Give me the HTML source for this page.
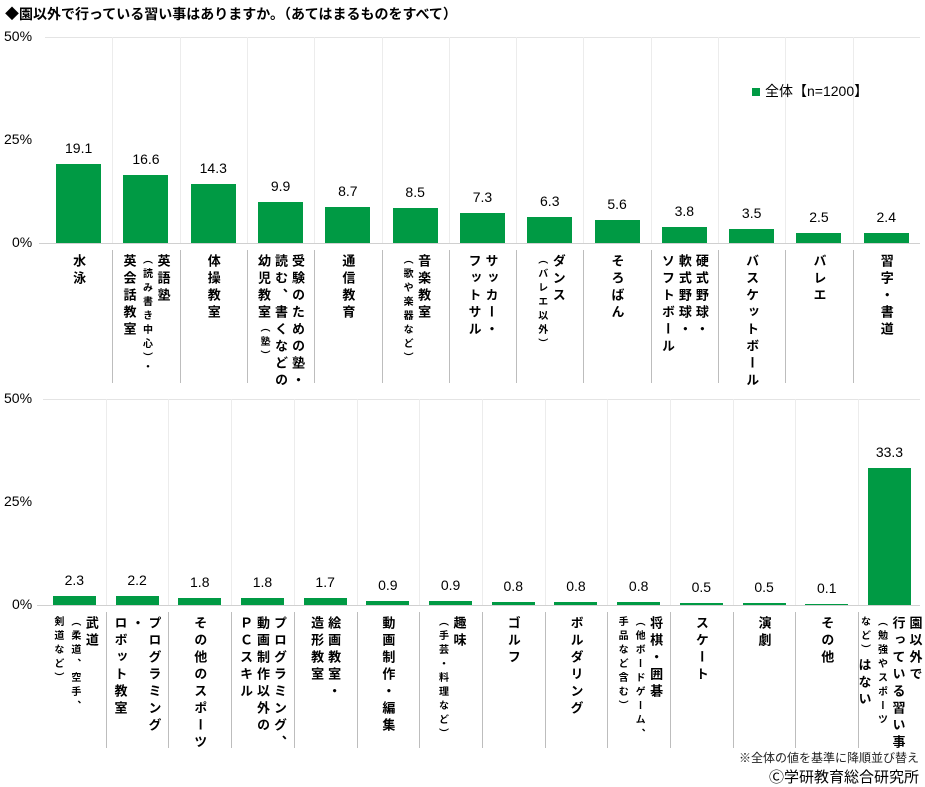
<!DOCTYPE html>
<html><head><meta charset="utf-8"><style>
body{margin:0;width:925px;height:785px;background:#fff;position:relative;overflow:hidden;font-family:"Liberation Sans","Noto Sans CJK JP",sans-serif;color:#000}
.a{position:absolute}
.bar{position:absolute;background:#009a44}
.v{position:absolute;font-size:14px;text-align:center;width:60px}
.yl{position:absolute;font-size:14px;left:4px}
.g{position:absolute;background:#ececec;width:1px}
.s{position:absolute;background:#bdbdbd;width:1px}
.lab{position:absolute;display:flex;justify-content:center}
.lab div{writing-mode:vertical-rl;font-size:13px;font-weight:bold;letter-spacing:4px;line-height:17px}
.lab small{font-size:10px;line-height:14px;letter-spacing:4px}
</style></head><body>
<div class="a" style="left:5px;top:4px;font-size:14px;font-weight:bold">◆園以外で行っている習い事はありますか。（あてはまるものをすべて）</div>
<div id="c"></div>
<div class="a" style="left:752px;top:88px;width:8px;height:8px;background:#009a44"></div>
<div class="a" style="left:765px;top:81px;font-size:14px">全体【n=1200】</div>
<div class="a" style="right:6px;top:749px;font-size:12px;color:#222">※全体の値を基準に降順並び替え</div>
<div class="a" style="right:6px;top:766px;font-size:15px">Ⓒ学研教育総合研究所</div>
<script>
var dTop=[[19.1,'水泳'],[16.6,'英語塾<br><small>（読み書き中心）・</small><br>英会話教室'],[14.3,'体操教室'],[9.9,'受験のための塾・<br>読む、書くなどの<br>幼児教室<small>（塾）</small>'],[8.7,'通信教育'],[8.5,'音楽教室<br><small>（歌や楽器など）</small>'],[7.3,'サッカー・<br>フットサル'],[6.3,'ダンス<br><small>（バレエ以外）</small>'],[5.6,'そろばん'],[3.8,'硬式野球・<br>軟式野球・<br>ソフトボール'],[3.5,'バスケットボール'],[2.5,'バレエ'],[2.4,'習字・書道']];
var dBot=[[2.3,'武道<br><small>（柔道、空手、<br>剣道など）</small>'],[2.2,'プログラミング<br>・<br>ロボット教室'],[1.8,'その他のスポーツ'],[1.8,'プログラミング、<br>動画制作以外の<br>ＰＣスキル'],[1.7,'絵画教室・<br>造形教室'],[0.9,'動画制作・編集'],[0.9,'趣味<br><small>（手芸・料理など）</small>'],[0.8,'ゴルフ'],[0.8,'ボルダリング'],[0.8,'将棋・囲碁<br><small>（他ボードゲーム、<br>手品など含む）</small>'],[0.5,'スケート'],[0.5,'演劇'],[0.1,'その他'],[33.3,'園以外で<br>行っている習い事<br><small>（勉強やスポーツ<br>など）</small>はない']];
var h='';
function chart(d,x0,w,y0,bw,ls,le){
 var sc=4.12, yt=y0-206;
 h+='<div class="a" style="left:'+x0+'px;top:'+yt+'px;width:'+(920-x0)+'px;height:1px;background:#e4e4e4"></div>';
 h+='<div class="a" style="left:'+(x0-6)+'px;top:'+y0+'px;width:'+(926-x0)+'px;height:1px;background:#d0d0d0"></div>';
 [[50,yt],[25,y0-103],[0,y0]].forEach(function(p){h+='<div class="yl" style="top:'+(p[1]-9)+'px;'+(p[0]==0?'left:12px':'')+'">'+p[0]+'%</div>';});
 d.forEach(function(e,i){
  var x=x0+i*w, bh=Math.max(1,e[0]*sc);
  if(i>0){h+='<div class="g" style="left:'+Math.round(x)+'px;top:'+yt+'px;height:206px"></div>';
   h+='<div class="s" style="left:'+Math.round(x)+'px;top:'+ls+'px;height:'+(le-ls)+'px"></div>';}
  h+='<div class="bar" style="left:'+(x+(w-bw)/2)+'px;top:'+(y0-bh)+'px;width:'+bw+'px;height:'+bh+'px"></div>';
  h+='<div class="v" style="left:'+(x+w/2-30)+'px;top:'+(y0-bh-24)+'px">'+e[0].toFixed(1)+'</div>';
  h+='<div class="lab" style="left:'+x+'px;top:'+(ls+4)+'px;width:'+w+'px"><div>'+e[1]+'</div></div>';
 });
}
chart(dTop,45,67.3,243,45,250,383);
chart(dBot,43,62.7,605,43,612,748);
document.getElementById('c').innerHTML=h;
</script>
</body></html>
